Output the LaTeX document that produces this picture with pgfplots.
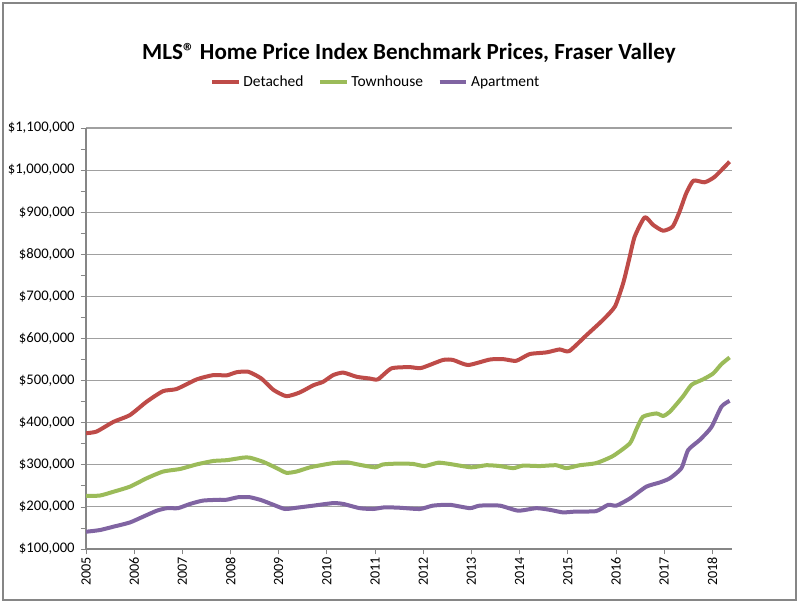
\documentclass[border=0pt]{standalone}
\usepackage{fontspec}
\setmainfont{Carlito}
\usepackage{pgfplots}
\pgfplotsset{compat=1.18}
\definecolor{detc}{HTML}{BE4B48}
\definecolor{townc}{HTML}{9BBB59}
\definecolor{aptc}{HTML}{8064A2}
\definecolor{axgray}{HTML}{868686}
\definecolor{gridgray}{HTML}{A0A0A0}
\begin{document}
\begin{tikzpicture}
\useasboundingbox (0pt,0pt) rectangle (600pt,-453.75pt);
\draw[axgray, line width=0.8pt] (2.25pt,-2.25pt) rectangle (597pt,-450pt);
\node[font=\fontsize{17.3}{20}\selectfont\bfseries] at (306.75pt,-39.75pt) {MLS® Home Price Index Benchmark Prices, Fraser Valley};
\begin{axis}[
  at={(64.5pt,-411.75pt)}, anchor=south west,
  scale only axis, width=484.5pt, height=315.75pt,
  xmin=2005, xmax=2018.41, ymin=100, ymax=1100,
  axis lines*=left,
  axis line style={axgray, line width=0.8pt},
  tick align=outside,
  tick style={axgray, line width=0.6pt},
  major tick length=4pt, minor tick length=4pt,
  xtick={2005,2006,...,2018},
  xticklabels={2005,2006,2007,2008,2009,2010,2011,2012,2013,2014,2015,2016,2017,2018},
  minor x tick num=11,
  ytick={100,200,...,1100},
  yticklabels={{\$100,000},{\$200,000},{\$300,000},{\$400,000},{\$500,000},{\$600,000},{\$700,000},{\$800,000},{\$900,000},{\$1,000,000},{\$1,100,000}},
  minor y tick num=1,
  ymajorgrids,
  major grid style={gridgray, line width=0.8pt},
  xticklabel style={rotate=90, anchor=east, font=\fontsize{10.6}{12}\selectfont, xshift=1.5pt},
  yticklabel style={font=\fontsize{11}{13}\selectfont, xshift=-1pt},
  legend columns=3,
  legend style={at={(0.449,1.109)}, anchor=center, draw=none, fill=none,
    font=\fontsize{11.6}{13}\selectfont,
    /tikz/every even column/.append style={column sep=9pt}},
  legend image code/.code={\draw[#1, line width=3pt] (0pt,0pt) -- (20pt,0pt);},
  every axis plot/.append style={line width=3pt, line join=round, smooth, tension=0.35},
]
\addplot[detc] coordinates {
(2005.00,375) (2005.22,379) (2005.57,402) (2005.91,418) (2006.26,450) (2006.60,475) (2006.88,480) (2007.30,503) (2007.64,513) (2007.92,512.5) (2008.13,520) (2008.37,521) (2008.64,505) (2008.89,478) (2009.16,463) (2009.44,472) (2009.72,489) (2009.92,497) (2010.13,513) (2010.34,519) (2010.62,509) (2010.89,505) (2011.06,503) (2011.34,529) (2011.72,532) (2011.96,530) (2012.41,549) (2012.62,549) (2012.93,537) (2013.38,550) (2013.66,551) (2013.93,547) (2014.21,563) (2014.56,567) (2014.83,574) (2015.03,570) (2015.39,608) (2015.73,644) (2015.98,676) (2016.15,731) (2016.27,786) (2016.39,842) (2016.60,888) (2016.77,870) (2016.98,856) (2017.18,866) (2017.32,901) (2017.46,945) (2017.61,975) (2017.84,971) (2018.05,984) (2018.36,1020)
};
\addlegendentry{Detached}
\addplot[townc] coordinates {
(2005.00,226) (2005.29,227) (2005.57,236) (2005.91,248) (2006.26,268) (2006.60,284) (2006.95,290) (2007.30,301) (2007.64,309) (2007.92,311) (2008.26,317) (2008.40,317) (2008.68,307) (2008.96,292) (2009.16,281) (2009.37,284) (2009.65,294) (2009.92,300) (2010.13,304) (2010.41,306) (2010.68,300) (2011.00,294) (2011.17,301) (2011.51,303) (2011.79,302) (2012.03,297) (2012.31,305) (2012.55,302) (2013.00,294) (2013.31,299) (2013.59,297) (2013.87,292) (2014.07,298) (2014.42,297) (2014.76,299) (2014.97,292) (2015.25,299) (2015.59,304) (2015.94,321) (2016.29,351) (2016.42,383) (2016.56,414) (2016.84,422) (2016.98,416) (2017.12,426) (2017.39,462) (2017.57,490) (2017.81,503) (2018.02,517) (2018.19,539) (2018.36,555)
};
\addlegendentry{Townhouse}
\addplot[aptc] coordinates {
(2005.00,141) (2005.29,145) (2005.57,153) (2005.91,163) (2006.19,177) (2006.47,191) (2006.68,197) (2006.91,197) (2007.16,207) (2007.43,215) (2007.78,217) (2007.92,217) (2008.16,223) (2008.40,223) (2008.64,216) (2008.89,205) (2009.13,195) (2009.37,198) (2009.72,203) (2010.13,209) (2010.34,207) (2010.68,197) (2010.96,195) (2011.20,199) (2011.51,198) (2011.93,195) (2012.20,203) (2012.55,205) (2012.97,197) (2013.17,203) (2013.59,203) (2013.97,191) (2014.35,197) (2014.63,193) (2014.90,187) (2015.18,189) (2015.59,190) (2015.84,205) (2016.01,203) (2016.29,220) (2016.63,248) (2016.91,258) (2017.12,268) (2017.36,292) (2017.50,335) (2017.74,359) (2017.98,389) (2018.19,438) (2018.36,452)
};
\addlegendentry{Apartment}
\end{axis}
\end{tikzpicture}
\end{document}
